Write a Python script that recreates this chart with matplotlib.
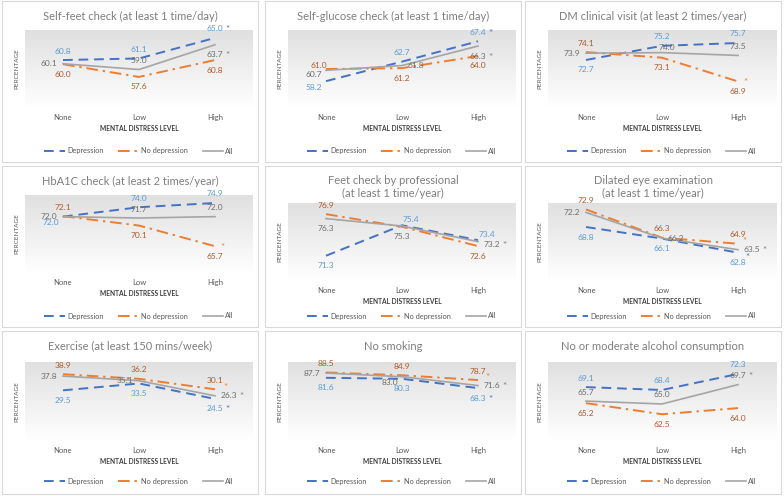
import numpy as np
import matplotlib
matplotlib.use("Agg")
from matplotlib import pyplot as plt
from matplotlib.patches import Rectangle
from matplotlib.colors import LinearSegmentedColormap

plt.rcParams['font.family'] = ['Lato', 'DejaVu Sans']

levels = ['None', 'Low', 'High']
series_names = ['Depression', 'No depression', 'All']

titles = ['Self-feet check (at least 1 time/day)',
          'Self-glucose check (at least 1 time/day)',
          'DM clinical visit (at least 2 times/year)',
          'HbA1C check (at least 2 times/year)',
          'Feet check by professional\n(at least 1 time/year)',
          'Dilated eye examination\n(at least 1 time/year)',
          'Exercise (at least 150 mins/week)',
          'No smoking',
          'No or moderate alcohol consumption']

# values: Depression, No depression, All (None, Low, High)
dep = [[60.8, 61.1, 65.0], [58.2, 62.7, 67.4], [72.7, 75.2, 75.7],
       [72.0, 74.0, 74.9], [71.3, 75.4, 73.4], [68.8, 66.1, 62.8],
       [29.5, 33.5, 24.5], [81.6, 80.3, 68.3], [69.1, 68.4, 72.3]]
nodep = [[60.0, 57.6, 60.8], [61.0, 61.2, 64.0], [74.1, 73.1, 68.9],
         [72.1, 70.1, 65.7], [76.9, 75.2, 72.6], [72.9, 66.3, 64.9],
         [38.9, 36.2, 30.1], [88.5, 84.9, 78.7], [65.2, 62.5, 64.0]]
allp = [[60.1, 59.0, 63.7], [60.7, 61.8, 66.3], [73.9, 74.0, 73.5],
        [72.0, 71.7, 72.0], [76.3, 75.3, 73.2], [72.2, 66.2, 63.5],
        [37.8, 35.1, 26.3], [87.7, 83.0, 71.6], [65.7, 65.0, 69.7]]

# hidden y axis ranges
ylims = [(51.7, 66.5), (52, 70), (64.2, 78), (60, 76.6), (67.9, 78.4),
         (56.2, 74.4), (0, 46), (0, 102), (56, 75.2)]

# label placement per series (a=above, b=below, l=left, r=right)
label_pos = [
    [['a', 'a', 'a'], ['b', 'b', 'b'], ['l', 'a', 'b']],
    [['bl', 'a', 'a'], ['al', 'b', 'b'], ['bl2', 'r', 'b']],
    [['b', 'a', 'a'], ['a', 'b', 'b'], ['l', 'ur', 'a']],
    [['bl', 'a', 'a'], ['a', 'b', 'b'], ['l', 'a', 'a']],
    [['b', 'ar', 'ar'], ['a', None, 'b'], ['b', 'b', 'rb']],
    [['b', 'b', 'b'], ['a', 'a', 'a'], ['l', 'r', 'r']],
    [['b', 'b', 'b'], ['a', 'a', 'a'], ['l', 'l', 'r']],
    [['b', 'b', 'b'], ['a', 'a', 'a'], ['l', 'bl', 'r']],
    [['a', 'a', 'a'], ['b', 'b', 'b'], ['a', 'a', 'a']],
]
# significance stars at the High point: series index -> 'lab' or offset
stars = [{0: 'lab', 2: 'lab'}, {0: 'lab', 2: 'lab'}, {1: (7, 0)}, {1: (7, 0)},
         {2: 'lab'}, {0: (9, -4), 1: (6, 3), 2: 'lab'},
         {0: 'lab', 1: (10, 3), 2: 'lab'}, {0: 'lab', 1: (9, 4), 2: 'lab'},
         {2: 'lab'}]

offsets = {'a': (0, 9), 'b': (0, -10), 'l': (-14, 0), 'r': (14, 0),
           'bl': (-12, -6), 'bl2': (-12, -4), 'al': (-7, 3), 'ar': (9, 6),
           'ur': (5, 5), 'rb': (14, -3)}

line_colors = ['#4472C4', '#ED7D31', '#A5A5A5']
text_colors = ['#5B9BD5', '#B0592A', '#6E6E6E']
star_colors = ['#4472C4', '#ED7D31', '#808080']
styles = [(0, (5, 3)), (0, (6, 2.5, 1.2, 2.5)), '-']

W, H = 784, 496
fig = plt.figure(figsize=(W / 100, H / 100), dpi=100)
grad_cmap = LinearSegmentedColormap.from_list('g', ['#FFFFFF', '#E0E0E0'])
grad = np.linspace(0, 1, 100).reshape(-1, 1)

col_x = [2, 265, 525]
row_y = [1, 166, 331]
pw = 256
ph = [161, 161, 163]

for k in range(9):
    i, j = divmod(k, 3)
    x0, y0 = col_x[j], row_y[i]
    h = ph[i]
    fig.add_artist(Rectangle((x0 / W, 1 - (y0 + h) / H), pw / W, h / H,
                             transform=fig.transFigure, facecolor='white',
                             edgecolor='#D9D9D9', linewidth=0.8, zorder=0))
    two = '\n' in titles[k]
    top = 37 if two else 29
    bot = 115 if two else 107
    if i == 2:
        top += 2
        bot += 3
    left, right = 23, 251
    ax = fig.add_axes([(x0 + left) / W, 1 - (y0 + bot) / H,
                       (right - left) / W, (bot - top) / H])
    ax.imshow(grad, extent=[0, 1, 1, 0], transform=ax.transAxes,
              aspect='auto', cmap=grad_cmap, zorder=0)
    xs = np.arange(3)
    data = [dep[k], nodep[k], allp[k]]
    for s in range(3):
        ax.plot(xs, data[s], color=line_colors[s], linestyle=styles[s],
                linewidth=1.4 if s < 2 else 1.2, label=series_names[s], zorder=3)
        for p in range(3):
            pos = label_pos[k][s][p]
            if pos is None:
                continue
            dx, dy = offsets[pos]
            ax.annotate('%.1f' % data[s][p], (xs[p], data[s][p]),
                        xytext=(dx, dy), textcoords='offset pixels',
                        ha='center', va='center', fontsize=6.0,
                        color=text_colors[s], zorder=4)
        if s in stars[k]:
            if stars[k][s] == 'lab':
                dx, dy = offsets[label_pos[k][s][2]]
                dx += 12
            else:
                dx, dy = stars[k][s]
            ax.annotate('*', (xs[2], data[s][2]), xytext=(dx, dy - 1),
                        textcoords='offset pixels', ha='center', va='center',
                        fontsize=7, color=star_colors[s], zorder=4)
    ax.set_xlim(-0.5, 2.5)
    ax.set_ylim(*ylims[k])
    ax.set_yticks([])
    ax.set_xticks(xs)
    ax.set_xticklabels(levels, fontsize=5.5, color='#595959')
    ax.tick_params(axis='x', length=0, pad=4)
    for sp in ax.spines.values():
        sp.set_visible(False)
    ax.set_xlabel('MENTAL DISTRESS LEVEL', fontsize=4.8, fontweight='bold',
                  color='#404040', labelpad=3)
    ax.set_ylabel('PERCENTAGE', fontsize=4.6, color='#595959', labelpad=4)
    fig.text((x0 + pw / 2) / W, 1 - (y0 + (21 if two else 15)) / H, titles[k],
             ha='center', va='center', fontsize=8, color='#7F7F7F',
             linespacing=1.25)
    leg = ax.legend(loc='center', bbox_to_anchor=(0.5, -(150 - bot) / (bot - top)),
                    ncol=3, frameon=False, fontsize=5.3, handlelength=2.8,
                    columnspacing=2.0, handletextpad=0.3)
    for t in leg.get_texts():
        t.set_color('#595959')

fig.savefig('out.png', dpi=100)
